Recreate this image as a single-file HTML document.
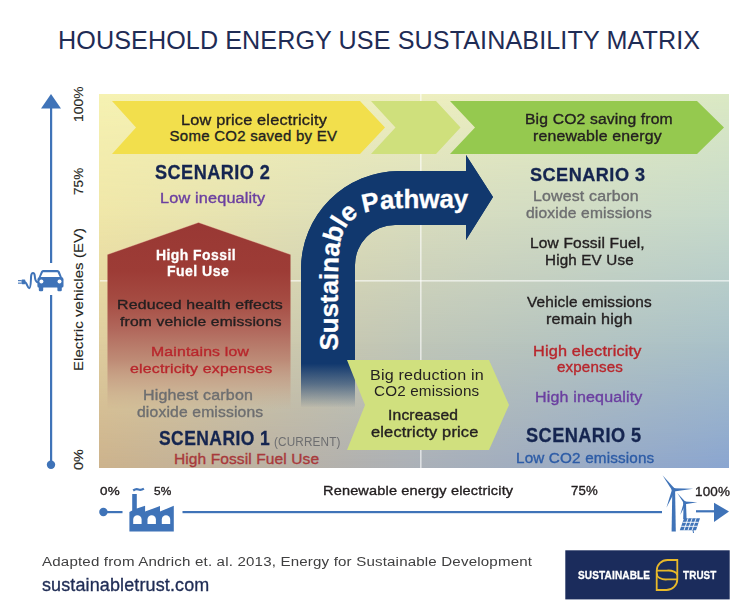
<!DOCTYPE html>
<html><head><meta charset="utf-8"><style>
html,body{margin:0;padding:0;background:#fff;}
#page{position:relative;width:754px;height:615px;overflow:hidden;background:#fff;font-family:"Liberation Sans",sans-serif;}
.t{position:absolute;white-space:nowrap;line-height:1;}
.bg{position:absolute;left:99px;top:94px;width:630px;height:374px;}
svg.shapes{position:absolute;left:0;top:0;}
.r0{background:linear-gradient(to right,#f6f2b2 0%,#eeefbf 51%,#dbe9c4 100%);}
.r1{background:linear-gradient(to right,#efe6a8 0%,#d8dcbe 51%,#c6d9cb 100%);-webkit-mask-image:linear-gradient(to bottom,transparent 0%,#000 33.3%);}
.r2{background:linear-gradient(to right,#dfcd9e 0%,#bfc6b8 51%,#a9c1c9 100%);-webkit-mask-image:linear-gradient(to bottom,transparent 33.3%,#000 66.6%);}
.r3{background:linear-gradient(to right,#ccb28c 0%,#aab0b8 51%,#8aa5d0 100%);-webkit-mask-image:linear-gradient(to bottom,transparent 66.6%,#000 100%);}

</style></head><body>
<div id="page">
<div class="bg r0"></div><div class="bg r1"></div><div class="bg r2"></div><div class="bg r3"></div>
<svg class="shapes" width="754" height="615" viewBox="0 0 754 615">
<defs>
<linearGradient id="houseG" x1="0" y1="222" x2="0" y2="410" gradientUnits="userSpaceOnUse">
<stop offset="0" stop-color="#993834"/><stop offset="0.26" stop-color="#9d3c36"/><stop offset="0.415" stop-color="#a54b42"/><stop offset="0.575" stop-color="#b0655a" stop-opacity="0.97"/><stop offset="0.735" stop-color="#bb8471" stop-opacity="0.9"/><stop offset="0.87" stop-color="#c49c84" stop-opacity="0.6"/><stop offset="1" stop-color="#c8a88a" stop-opacity="0"/>
</linearGradient>
<linearGradient id="arrowG" x1="0" y1="356" x2="0" y2="407" gradientUnits="userSpaceOnUse">
<stop offset="0" stop-color="#11386e"/><stop offset="0.15" stop-color="#11386e"/><stop offset="0.55" stop-color="#11386e" stop-opacity="0.6"/><stop offset="1" stop-color="#11386e" stop-opacity="0.02"/>
</linearGradient>
</defs>
<!-- grid lines -->
<rect x="420" y="94" width="1.6" height="374" fill="#fff" fill-opacity="0.6"/>
<rect x="100" y="280" width="629" height="1.6" fill="#fff" fill-opacity="0.6"/>
<!-- banners -->
<polygon points="112,101 360,101 385,127.5 360,154 112,154 136,127.5" fill="#f2df4c"/>
<polygon points="371,101 436,101 460.5,127.5 436,154 371,154 395.5,127.5" fill="#cfe07c"/>
<polygon points="450,101 697,101 724,127.5 697,154 450,154 475,127.5" fill="#95c94f"/>
<!-- house -->
<polygon points="198.5,222.5 290.5,254.5 290.5,410 107.5,410 107.5,254.5" fill="url(#houseG)"/>
<polyline points="107.5,254.5 198.5,222.5 290.5,254.5" fill="none" stroke="#f3d0b0" stroke-opacity="0.45" stroke-width="0.8"/>
<!-- arrow -->
<path d="M301,407 L301,269 A98,98 0 0 1 399,171 L466,171 L466,155 L493,197 L466,240 L466,225 L395,225 A40,40 0 0 0 355,265 L355,407 Z" fill="url(#arrowG)"/>
<path d="M301,356 L301,269 A98,98 0 0 1 399,171 L466,171 L466,155 L493,197 L466,240 L466,225 L395,225 A40,40 0 0 0 355,265 L355,356 Z" fill="#11386e"/>
<path id="tp" d="M338,352 L338,280 C338,222 346,208 408,208 L520,208" fill="none"/>
<text font-family="Liberation Sans" font-weight="700" font-size="26" fill="#fff" stroke="#fff" stroke-width="0.3"><textPath href="#tp" startOffset="1.4"><tspan letter-spacing="-0.1">Sustain</tspan><tspan letter-spacing="-0.8">able </tspan><tspan letter-spacing="-0.1" dx="-1">Pathway</tspan></textPath></text>
<!-- light green chevron -->
<polygon points="347,360 489,360 509,405 489,450 347,450 365,405" fill="#d0e07e"/>
<!-- vertical axis -->
<rect x="50" y="106" width="2.2" height="157" fill="#3f73b8"/>
<rect x="50" y="295" width="2.2" height="170" fill="#3f73b8"/>
<polygon points="51,94 61,108.5 41,108.5" fill="#3f73b8"/>
<circle cx="51" cy="464.7" r="4.2" fill="#3f73b8"/>
<!-- horizontal axis -->
<circle cx="103.4" cy="512" r="4.2" fill="#3f73b8"/>
<rect x="103" y="511" width="19.5" height="2.2" fill="#3f73b8"/>
<rect x="182.5" y="511" width="479.5" height="2.2" fill="#3f73b8"/>
<rect x="696" y="510.2" width="19" height="2.2" fill="#3f73b8"/>
<polygon points="714,502.8 729,511.5 714,522" fill="#3f73b8"/>
<!-- car icon -->
<g fill="#3f73b8">
<path d="M43,270 L57.5,270 Q59,270 59.7,271.5 L62,277.5 L60,277.5 L57.5,272.3 L43,272.3 L40.5,277.5 L38.6,277.5 L41,271.5 Q41.7,270 43,270 Z"/>
<path d="M39.5,277 L61.5,277 Q63.5,277 63.5,279.5 L63.5,286 Q63.5,287.5 62,287.5 L38.8,287.5 Q37.4,287.5 37.4,286 L37.4,279.5 Q37.4,277 39.5,277 Z"/>
<rect x="38.8" y="286" width="4.4" height="5.2" rx="1.2"/>
<rect x="57.4" y="286" width="4.4" height="5.2" rx="1.2"/>
<rect x="21.5" y="279.6" width="3.8" height="4.6" rx="0.8"/>
<rect x="18" y="280.1" width="3.6" height="1.1"/>
<rect x="18" y="282.6" width="3.6" height="1.1"/>
</g>
<circle cx="41.4" cy="281.4" r="2" fill="#fff"/>
<circle cx="59.5" cy="281.4" r="2" fill="#fff"/>
<path d="M24.5,282 C27,282 27.3,288.2 29.2,288.2 C31,288.2 30.8,280 31.1,276.2 C31.4,273.6 32.1,273 33,273 C33.9,273 34.6,273.6 34.8,276.2 C35,279.5 35.2,282.2 37.8,282.2" fill="none" stroke="#3f73b8" stroke-width="2" stroke-linecap="round"/>
<!-- factory -->
<g fill="#3f73b8">
<path d="M129.4,531.6 L129.4,512 L132.2,510.5 L132.2,494.1 L136.8,494.1 L136.8,508.6 L145.1,505.7 L145.1,511.6 L160,506 L160,511.6 L173.8,505.7 L173.8,531.6 Z"/>
</g>
<path d="M133.2,490.5 Q136,488.5 138.5,489.5 Q141,490.5 143.9,488.6" fill="none" stroke="#3f73b8" stroke-width="2.2"/>
<g fill="#fff">
<path d="M133.2,524 L133.2,519.4 A4.2,4.2 0 0 1 141.6,519.4 L141.6,524 Z"/>
<path d="M147.5,524 L147.5,519.4 A4.2,4.2 0 0 1 155.9,519.4 L155.9,524 Z"/>
<path d="M161.8,524 L161.8,519.4 A4.2,4.2 0 0 1 170.2,519.4 L170.2,524 Z"/>
</g>
<!-- turbines -->
<g fill="#3f73b8">
<path d="M672.3,490 L675.1,490 L675.8,531.5 L671.6,531.5 Z"/>
<path d="M674.6,488.6 L662.5,475.2 L672.2,490.6 Z"/>
<path d="M673.8,488.2 L693.2,488.8 L674,491.6 Z"/>
<path d="M672,489.4 L666.4,507.8 L675.2,490.8 Z"/>
<circle cx="673.6" cy="489.8" r="2"/>
<path d="M683.6,503 L686,503 L686.6,519 L683.2,519 Z"/>
<path d="M685.6,502 L677.2,493.1 L684,503.6 Z"/>
<path d="M684.8,501.6 L697.3,502.2 L685,504.2 Z"/>
<path d="M683.8,502.6 L680.2,515 L686,503.8 Z"/>
<circle cx="684.8" cy="502.8" r="1.6"/>
</g>
<g fill="#3f73b8">
<path d="M684,518.3 L700,518.3 L696,530.3 L679.8,530.3 Z"/>
</g>
<g stroke="#fff" stroke-width="0.9" fill="none">
<path d="M682.6,522.3 L698.6,522.3 M681.2,526.3 L697.3,526.3"/>
<path d="M688.1,518.3 L684,530.3 M692.1,518.3 L688,530.3 M696.1,518.3 L692,530.3"/>
</g>
<path d="M693,530 L693.5,533" stroke="#3f73b8" stroke-width="1"/>
<!-- logo -->
<rect x="565.3" y="550.3" width="164.4" height="49.1" fill="#1b2c5c"/>
<g fill="none" stroke="#e8b92a" stroke-width="1.8">
<path d="M677.3,560 L667.5,560 A10.8,10.8 0 0 0 656.7,570.8 L656.7,590 L666.5,590 A10.8,10.8 0 0 0 677.3,579.2 Z"/>
<path d="M656.7,570.6 L666.5,570.6 A9,4.6 0 0 1 677.3,575.2"/>
<path d="M656.9,573.2 A9,5.6 0 0 0 667.5,579.4 L677.3,579.4"/>
</g>
</svg>

<div id="title" class="t" style="left:58.0px;top:27.91px;font-size:25.15px;font-weight:400;color:#1f2c55;letter-spacing:0.098px">HOUSEHOLD ENERGY USE SUSTAINABILITY MATRIX</div>
<div id="b1a" class="t" style="left:180.8px;top:112.84px;font-size:14.24px;font-weight:400;-webkit-text-stroke:0.35px #231f20;color:#231f20;letter-spacing:0.150px;transform-origin:0 0;transform:scaleX(1.1465)">Low price electricity</div>
<div id="b1b" class="t" style="left:169.6px;top:128.63px;font-size:14.97px;font-weight:400;-webkit-text-stroke:0.35px #231f20;color:#231f20;letter-spacing:0.274px">Some CO2 saved by EV</div>
<div id="b3a" class="t" style="left:524.5px;top:112.79px;font-size:13.95px;font-weight:400;-webkit-text-stroke:0.35px #231f20;color:#231f20;letter-spacing:0.150px;transform-origin:0 0;transform:scaleX(1.1246)">Big CO2 saving from</div>
<div id="b3b" class="t" style="left:532.9px;top:128.74px;font-size:14.24px;font-weight:400;-webkit-text-stroke:0.35px #231f20;color:#231f20;letter-spacing:0.150px;transform-origin:0 0;transform:scaleX(1.1148)">renewable energy</div>
<div id="s2" class="t" style="left:154.5px;top:162.81px;font-size:19.48px;font-weight:700;-webkit-text-stroke:0.3px #152550;color:#152550;letter-spacing:0.500px;transform-origin:0 0;transform:scaleX(0.9302)">SCENARIO 2</div>
<div id="s2a" class="t" style="left:159.9px;top:190.52px;font-size:14.39px;font-weight:400;-webkit-text-stroke:0.35px #6b3fa0;color:#6b3fa0;letter-spacing:0.150px;transform-origin:0 0;transform:scaleX(1.1304)">Low inequality</div>
<div id="h1" class="t" style="left:156.0px;top:247.06px;font-size:15.41px;font-weight:700;-webkit-text-stroke:0.3px #ffffff;color:#ffffff;letter-spacing:0.500px;transform-origin:0 0;transform:scaleX(0.9048)">High Fossil</div>
<div id="h2" class="t" style="left:167.4px;top:263.46px;font-size:15.41px;font-weight:700;-webkit-text-stroke:0.3px #ffffff;color:#ffffff;letter-spacing:0.500px;transform-origin:0 0;transform:scaleX(0.9122)">Fuel Use</div>
<div id="h3" class="t" style="left:117.1px;top:299.25px;font-size:12.94px;font-weight:400;-webkit-text-stroke:0.35px #231f20;color:#231f20;letter-spacing:0.150px;transform-origin:0 0;transform:scaleX(1.2254)">Reduced health effects</div>
<div id="h4" class="t" style="left:119.6px;top:316.05px;font-size:12.94px;font-weight:400;-webkit-text-stroke:0.35px #231f20;color:#231f20;letter-spacing:0.150px;transform-origin:0 0;transform:scaleX(1.2060)">from vehicle emissions</div>
<div id="h5" class="t" style="left:150.6px;top:345.36px;font-size:13.52px;font-weight:400;-webkit-text-stroke:0.35px #b8262c;color:#b8262c;letter-spacing:0.150px;transform-origin:0 0;transform:scaleX(1.1687)">Maintains low</div>
<div id="h6" class="t" style="left:129.7px;top:362.26px;font-size:13.52px;font-weight:400;-webkit-text-stroke:0.35px #b8262c;color:#b8262c;letter-spacing:0.150px;transform-origin:0 0;transform:scaleX(1.1767)">electricity expenses</div>
<div id="h7" class="t" style="left:142.8px;top:388.40px;font-size:14.54px;font-weight:400;-webkit-text-stroke:0.35px #6d6e70;color:#6d6e70;letter-spacing:0.150px;transform-origin:0 0;transform:scaleX(1.1020)">Highest carbon</div>
<div id="h8" class="t" style="left:136.8px;top:404.90px;font-size:14.54px;font-weight:400;-webkit-text-stroke:0.35px #6d6e70;color:#6d6e70;letter-spacing:0.150px;transform-origin:0 0;transform:scaleX(1.0777)">dioxide emissions</div>
<div id="s1" class="t" style="left:158.7px;top:429.34px;font-size:19.91px;font-weight:700;-webkit-text-stroke:0.3px #152550;color:#152550;letter-spacing:0.500px;transform-origin:0 0;transform:scaleX(0.8784)">SCENARIO 1</div>
<div id="s1c" class="t" style="left:274.0px;top:434.88px;font-size:13.37px;font-weight:400;color:#6d6e70;letter-spacing:0.150px;transform-origin:0 0;transform:scaleX(0.8812)">(CURRENT)</div>
<div id="s1a" class="t" style="left:173.9px;top:450.73px;font-size:15.55px;font-weight:400;-webkit-text-stroke:0.35px #a8393b;color:#a8393b;letter-spacing:0.095px">High Fossil Fuel Use</div>
<div id="s3" class="t" style="left:530.4px;top:165.64px;font-size:18.02px;font-weight:700;-webkit-text-stroke:0.3px #152550;color:#152550;letter-spacing:0.500px;transform-origin:0 0;transform:scaleX(1.0036)">SCENARIO 3</div>
<div id="s3a" class="t" style="left:533.4px;top:188.77px;font-size:14.68px;font-weight:400;-webkit-text-stroke:0.35px #6d6e70;color:#6d6e70;letter-spacing:0.150px;transform-origin:0 0;transform:scaleX(1.0854)">Lowest carbon</div>
<div id="s3b" class="t" style="left:525.8px;top:205.80px;font-size:14.54px;font-weight:400;-webkit-text-stroke:0.35px #6d6e70;color:#6d6e70;letter-spacing:0.150px;transform-origin:0 0;transform:scaleX(1.0742)">dioxide emissions</div>
<div id="s3c" class="t" style="left:530.4px;top:237.39px;font-size:13.95px;font-weight:400;-webkit-text-stroke:0.35px #231f20;color:#231f20;letter-spacing:0.150px;transform-origin:0 0;transform:scaleX(1.1138)">Low Fossil Fuel,</div>
<div id="s3d" class="t" style="left:545.0px;top:254.19px;font-size:13.95px;font-weight:400;-webkit-text-stroke:0.35px #231f20;color:#231f20;letter-spacing:0.150px;transform-origin:0 0;transform:scaleX(1.0900)">High EV Use</div>
<div id="s5a" class="t" style="left:527.1px;top:295.30px;font-size:14.54px;font-weight:400;-webkit-text-stroke:0.35px #231f20;color:#231f20;letter-spacing:0.150px;transform-origin:0 0;transform:scaleX(1.0576)">Vehicle emissions</div>
<div id="s5b" class="t" style="left:545.7px;top:311.80px;font-size:14.54px;font-weight:400;-webkit-text-stroke:0.35px #231f20;color:#231f20;letter-spacing:0.150px;transform-origin:0 0;transform:scaleX(1.1132)">remain high</div>
<div id="s5c" class="t" style="left:532.7px;top:344.42px;font-size:14.39px;font-weight:400;-webkit-text-stroke:0.35px #b8262c;color:#b8262c;letter-spacing:0.150px;transform-origin:0 0;transform:scaleX(1.1326)">High electricity</div>
<div id="s5d" class="t" style="left:557.2px;top:360.12px;font-size:14.39px;font-weight:400;-webkit-text-stroke:0.35px #b8262c;color:#b8262c;letter-spacing:0.150px;transform-origin:0 0;transform:scaleX(1.0517)">expenses</div>
<div id="s5e" class="t" style="left:535.1px;top:389.62px;font-size:14.39px;font-weight:400;-webkit-text-stroke:0.35px #6b3fa0;color:#6b3fa0;letter-spacing:0.150px;transform-origin:0 0;transform:scaleX(1.1138)">High inequality</div>
<div id="s5" class="t" style="left:526.1px;top:426.39px;font-size:19.62px;font-weight:700;-webkit-text-stroke:0.3px #152550;color:#152550;letter-spacing:0.500px;transform-origin:0 0;transform:scaleX(0.9259)">SCENARIO 5</div>
<div id="s5f" class="t" style="left:515.6px;top:451.32px;font-size:14.39px;font-weight:400;-webkit-text-stroke:0.35px #2d5ca6;color:#2d5ca6;letter-spacing:0.150px;transform-origin:0 0;transform:scaleX(1.0616)">Low CO2 emissions</div>
<div id="g1" class="t" style="left:369.5px;top:367.95px;font-size:14.83px;font-weight:400;color:#231f20;letter-spacing:0.150px;transform-origin:0 0;transform:scaleX(1.0883)">Big reduction in</div>
<div id="g2" class="t" style="left:373.6px;top:384.45px;font-size:14.83px;font-weight:400;color:#231f20;letter-spacing:0.150px;transform-origin:0 0;transform:scaleX(1.0277)">CO2 emissions</div>
<div id="g3" class="t" style="left:388.0px;top:409.41px;font-size:13.81px;font-weight:400;-webkit-text-stroke:0.35px #231f20;color:#231f20;letter-spacing:0.150px;transform-origin:0 0;transform:scaleX(1.1333)">Increased</div>
<div id="g4" class="t" style="left:371.0px;top:426.11px;font-size:13.81px;font-weight:400;-webkit-text-stroke:0.35px #231f20;color:#231f20;letter-spacing:0.150px;transform-origin:0 0;transform:scaleX(1.1867)">electricty price</div>
<div id="ax0" class="t" style="left:99.8px;top:486.03px;font-size:11.19px;font-weight:400;-webkit-text-stroke:0.35px #231f20;color:#231f20;letter-spacing:0.150px;transform-origin:0 0;transform:scaleX(1.2000)">0%</div>
<div id="ax5" class="t" style="left:153.7px;top:486.03px;font-size:11.19px;font-weight:400;-webkit-text-stroke:0.35px #231f20;color:#231f20;letter-spacing:0.150px;transform-origin:0 0;transform:scaleX(1.0597)">5%</div>
<div id="axr" class="t" style="left:322.9px;top:484.95px;font-size:12.94px;font-weight:400;-webkit-text-stroke:0.35px #231f20;color:#231f20;letter-spacing:0.150px;transform-origin:0 0;transform:scaleX(1.1219)">Renewable energy electricity</div>
<div id="ax75" class="t" style="left:570.6px;top:484.95px;font-size:12.94px;font-weight:400;-webkit-text-stroke:0.35px #231f20;color:#231f20;letter-spacing:0.150px;transform-origin:0 0;transform:scaleX(1.0184)">75%</div>
<div id="ax100" class="t" style="left:695.0px;top:484.63px;font-size:13.08px;font-weight:400;-webkit-text-stroke:0.35px #231f20;color:#231f20;letter-spacing:0.150px;transform-origin:0 0;transform:scaleX(1.0303)">100%</div>
<div id="f1" class="t" style="left:41.9px;top:554.76px;font-size:13.52px;font-weight:400;color:#404041;letter-spacing:0.150px;transform-origin:0 0;transform:scaleX(1.1175)">Adapted from Andrich et. al. 2013, Energy for Sustainable Development</div>
<div id="f2" class="t" style="left:41.5px;top:574.95px;font-size:19.20px;font-weight:400;-webkit-text-stroke:0.35px #1f2c55;color:#1f2c55;letter-spacing:0.150px;transform-origin:0 0;transform:scaleX(0.9356)">sustainabletrust.com</div>
<div id="l1" class="t" style="left:578.3px;top:569.33px;font-size:11.77px;font-weight:700;-webkit-text-stroke:0.3px #ffffff;color:#ffffff;letter-spacing:0.150px;transform-origin:0 0;transform:scaleX(0.8548)">SUSTAINABLE</div>
<div id="l2" class="t" style="left:682.6px;top:569.33px;font-size:11.77px;font-weight:700;-webkit-text-stroke:0.3px #ffffff;color:#ffffff;letter-spacing:0.150px;transform-origin:0 0;transform:scaleX(0.8370)">TRUST</div>
<div id="v100" class="t" style="left:71.50px;top:122.00px;font-size:13.00px;font-weight:400;-webkit-text-stroke:0.15px #231f20;color:#231f20;letter-spacing:0.100px;transform-origin:0 0;transform:rotate(-90deg) scaleX(1.0625)">100%</div>
<div id="v75" class="t" style="left:71.50px;top:195.40px;font-size:13.00px;font-weight:400;-webkit-text-stroke:0.15px #231f20;color:#231f20;letter-spacing:0.100px;transform-origin:0 0;transform:rotate(-90deg) scaleX(1.0364)">75%</div>
<div id="vev" class="t" style="left:73.06px;top:371.00px;font-size:12.80px;font-weight:400;-webkit-text-stroke:0.15px #231f20;color:#231f20;letter-spacing:0.100px;transform-origin:0 0;transform:rotate(-90deg) scaleX(1.1628)">Electric vehicles (EV)</div>
<div id="v0" class="t" style="left:71.50px;top:470.00px;font-size:13.00px;font-weight:400;-webkit-text-stroke:0.15px #231f20;color:#231f20;letter-spacing:0.100px;transform-origin:0 0;transform:rotate(-90deg) scaleX(1.1065)">0%</div>
</div>
</body></html>
